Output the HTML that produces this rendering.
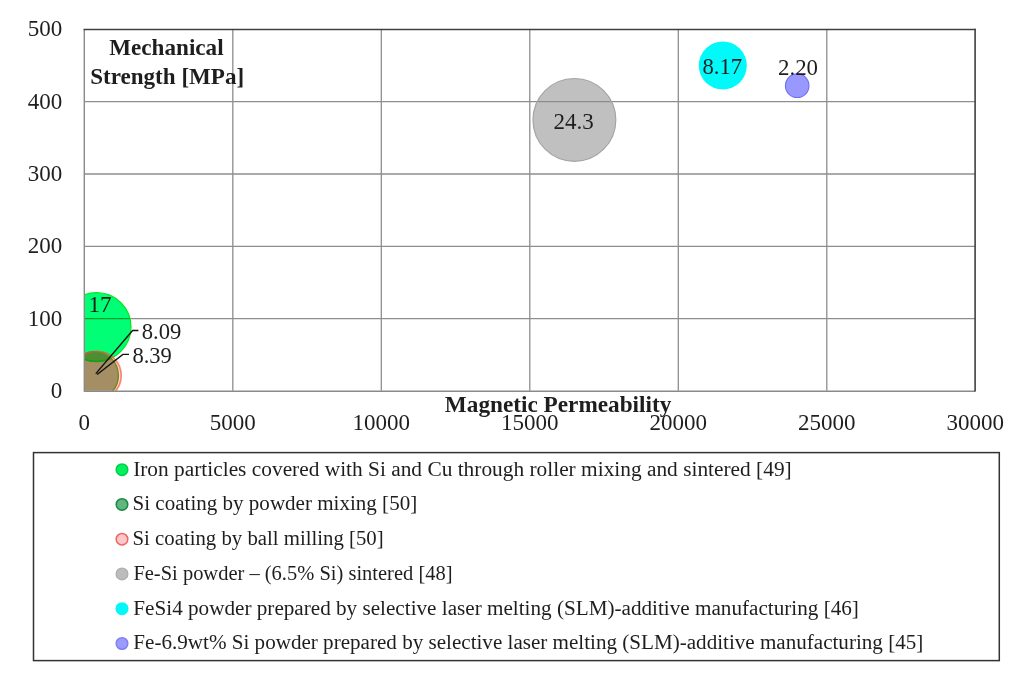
<!DOCTYPE html>
<html><head><meta charset="utf-8"><style>
html,body{margin:0;padding:0;background:#fff;width:1020px;height:677px;overflow:hidden;}
svg{display:block;font-family:"Liberation Serif",serif;filter:blur(0.4px);}
</style></head><body>
<svg width="1020" height="677" viewBox="0 0 1020 677" font-family="'Liberation Serif', serif">
<defs>
<clipPath id="plot"><rect x="84.3" y="29.3" width="891" height="361.5"/></clipPath>
<clipPath id="cdg"><circle cx="94.5" cy="375.5" r="23.29"/></clipPath>
<clipPath id="cg"><circle cx="96.6" cy="327.1" r="34.13"/></clipPath>
<clipPath id="cgr"><circle cx="574.4" cy="119.9" r="40.91"/></clipPath>
</defs>
<rect width="1020" height="677" fill="#fff"/>
<line x1="232.80" y1="29.3" x2="232.80" y2="390.8" stroke="#8e8e8e" stroke-width="1.3"/><line x1="381.30" y1="29.3" x2="381.30" y2="390.8" stroke="#8e8e8e" stroke-width="1.3"/><line x1="529.80" y1="29.3" x2="529.80" y2="390.8" stroke="#8e8e8e" stroke-width="1.3"/><line x1="678.30" y1="29.3" x2="678.30" y2="390.8" stroke="#8e8e8e" stroke-width="1.3"/><line x1="826.80" y1="29.3" x2="826.80" y2="390.8" stroke="#8e8e8e" stroke-width="1.3"/><line x1="84.3" y1="318.67" x2="975.3" y2="318.67" stroke="#8e8e8e" stroke-width="1.3"/><line x1="84.3" y1="246.34" x2="975.3" y2="246.34" stroke="#8e8e8e" stroke-width="1.3"/><line x1="84.3" y1="174.01" x2="975.3" y2="174.01" stroke="#8e8e8e" stroke-width="1.3"/><line x1="84.3" y1="101.68" x2="975.3" y2="101.68" stroke="#8e8e8e" stroke-width="1.3"/>
<g clip-path="url(#plot)"><circle cx="96.6" cy="327.1" r="34.4" fill="#00ff74" stroke="#00e81c" stroke-width="1.2"/><line x1="84" y1="318.67" x2="135" y2="318.67" stroke="#0a9a30" stroke-width="1.3" clip-path="url(#cg)"/><circle cx="94.5" cy="375.5" r="23.89" fill="rgb(0,60,0)" fill-opacity="0.5" stroke="rgb(50,150,30)" stroke-width="1.4"/><circle cx="96.9" cy="375.6" r="24.33" fill="rgb(255,110,40)" fill-opacity="0.3" stroke="rgb(255,70,60)" stroke-opacity="0.65" stroke-width="1.6"/><circle cx="96.6" cy="327.1" r="34.4" fill="none" stroke="rgb(10,165,10)" stroke-width="1.5" clip-path="url(#cdg)"/><circle cx="574.4" cy="119.9" r="41.41" fill="#c0c0c0" stroke="#a4a4a4" stroke-width="1.2"/><line x1="520" y1="101.68" x2="630" y2="101.68" stroke="#8c8c8c" stroke-width="1.3" clip-path="url(#cgr)"/><circle cx="722.8" cy="65.5" r="24.01" fill="#00fafa"/><circle cx="797.2" cy="85.7" r="11.8" fill="#9898ff" stroke="#6f6ff2" stroke-width="1.1"/></g>
<line x1="84.3" y1="29.3" x2="84.3" y2="391.4" stroke="#8a8a8a" stroke-width="1.4"/><line x1="84" y1="391.2" x2="975.3" y2="391.2" stroke="#8a8a8a" stroke-width="1.4"/><line x1="83.6" y1="29.5" x2="975.6" y2="29.5" stroke="#404040" stroke-width="1.6"/><line x1="975.1" y1="28.7" x2="975.1" y2="391.6" stroke="#404040" stroke-width="1.6"/>
<polyline points="138.4,330.5 132.6,330.5 95.8,373.6" fill="none" stroke="#111" stroke-width="1.4"/><polyline points="129,354.4 122.9,354.4 97.1,374.5" fill="none" stroke="#111" stroke-width="1.4"/>
<text x="62.2" y="398.00" fill="#1e1e1e" font-size="23" text-anchor="end">0</text><text x="62.2" y="325.67" fill="#1e1e1e" font-size="23" text-anchor="end">100</text><text x="62.2" y="253.34" fill="#1e1e1e" font-size="23" text-anchor="end">200</text><text x="62.2" y="181.01" fill="#1e1e1e" font-size="23" text-anchor="end">300</text><text x="62.2" y="108.68" fill="#1e1e1e" font-size="23" text-anchor="end">400</text><text x="62.2" y="36.35" fill="#1e1e1e" font-size="23" text-anchor="end">500</text><text x="84.30" y="430.3" fill="#1e1e1e" font-size="23" text-anchor="middle">0</text><text x="232.80" y="430.3" fill="#1e1e1e" font-size="23" text-anchor="middle">5000</text><text x="381.30" y="430.3" fill="#1e1e1e" font-size="23" text-anchor="middle">10000</text><text x="529.80" y="430.3" fill="#1e1e1e" font-size="23" text-anchor="middle">15000</text><text x="678.30" y="430.3" fill="#1e1e1e" font-size="23" text-anchor="middle">20000</text><text x="826.80" y="430.3" fill="#1e1e1e" font-size="23" text-anchor="middle">25000</text><text x="975.30" y="430.3" fill="#1e1e1e" font-size="23" text-anchor="middle">30000</text><text x="444.84" y="411.80" font-size="23" font-weight="bold" textLength="226.52" lengthAdjust="spacingAndGlyphs" fill="#1e1e1e" >Magnetic Permeability</text><text x="109.24" y="54.50" font-size="23" font-weight="bold" textLength="114.37" lengthAdjust="spacingAndGlyphs" fill="#1e1e1e" >Mechanical</text><text x="90.15" y="83.70" font-size="23" font-weight="bold" textLength="154.07" lengthAdjust="spacingAndGlyphs" fill="#1e1e1e" >Strength [MPa]</text><text x="702.39" y="74.00" font-size="23" textLength="39.69" lengthAdjust="spacingAndGlyphs" fill="#1e1e1e" >8.17</text><text x="553.58" y="128.80" font-size="23" textLength="40.24" lengthAdjust="spacingAndGlyphs" fill="#1e1e1e" >24.3</text><text x="777.99" y="74.80" font-size="23" textLength="40.03" lengthAdjust="spacingAndGlyphs" fill="#1e1e1e" >2.20</text><text x="88.51" y="311.60" font-size="23" textLength="23.18" lengthAdjust="spacingAndGlyphs" fill="#1e1e1e" >17</text><text x="141.69" y="339.00" font-size="23" textLength="39.61" lengthAdjust="spacingAndGlyphs" fill="#1e1e1e" >8.09</text><text x="132.40" y="362.50" font-size="23" textLength="39.51" lengthAdjust="spacingAndGlyphs" fill="#1e1e1e" >8.39</text>
<rect x="33.5" y="452.6" width="965.8" height="208" fill="none" stroke="#333" stroke-width="1.5"/><circle cx="122" cy="469.70" r="5.8" fill="#00f060" stroke="#00d040" stroke-width="1.5"/><text x="133.15" y="475.70" font-size="20.5" textLength="658.57" lengthAdjust="spacingAndGlyphs" fill="#1e1e1e" >Iron particles covered with Si and Cu through roller mixing and sintered [49]</text><circle cx="122" cy="504.46" r="5.8" fill="#64b482" stroke="#148c3c" stroke-width="1.5"/><text x="132.53" y="510.42" font-size="20.5" textLength="284.67" lengthAdjust="spacingAndGlyphs" fill="#1e1e1e" >Si coating by powder mixing [50]</text><circle cx="122" cy="539.22" r="5.8" fill="#ffc8c8" stroke="#f06464" stroke-width="1.5"/><text x="132.55" y="545.14" font-size="20.5" textLength="251.05" lengthAdjust="spacingAndGlyphs" fill="#1e1e1e" >Si coating by ball milling [50]</text><circle cx="122" cy="573.98" r="5.8" fill="#bcbcbc" stroke="#b0b0b0" stroke-width="1.5"/><text x="133.39" y="579.86" font-size="20.5" textLength="319.15" lengthAdjust="spacingAndGlyphs" fill="#1e1e1e" >Fe-Si powder – (6.5% Si) sintered [48]</text><circle cx="122" cy="608.74" r="5.8" fill="#00f8f8" stroke="#00f8f8" stroke-width="1.5"/><text x="133.37" y="614.58" font-size="20.5" textLength="725.52" lengthAdjust="spacingAndGlyphs" fill="#1e1e1e" >FeSi4 powder prepared by selective laser melting (SLM)-additive manufacturing [46]</text><circle cx="122" cy="643.50" r="5.8" fill="#9a9aff" stroke="#8080f0" stroke-width="1.5"/><text x="133.37" y="649.30" font-size="20.5" textLength="789.93" lengthAdjust="spacingAndGlyphs" fill="#1e1e1e" >Fe-6.9wt% Si powder prepared by selective laser melting (SLM)-additive manufacturing [45]</text>
</svg>
</body></html>
